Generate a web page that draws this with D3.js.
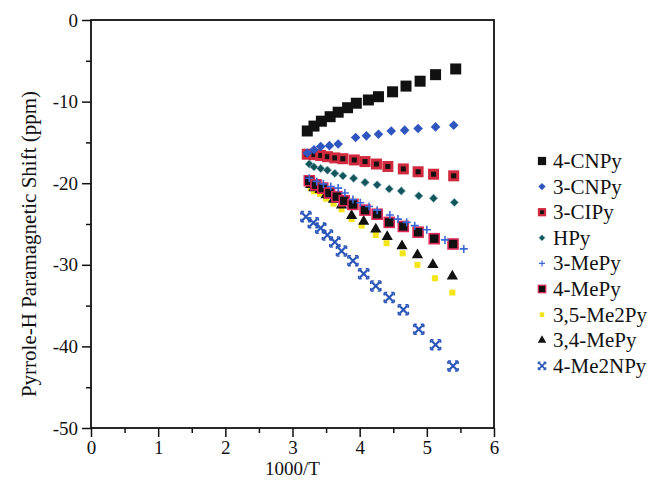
<!DOCTYPE html>
<html>
<head>
<meta charset="utf-8">
<script src="https://cdn.jsdelivr.net/npm/d3@7"></script>
<style>
  body { margin: 0; background: #fff; }
  svg { display: block; }
  text { font-family: "Liberation Serif", "Times New Roman", serif; fill: #111; }
</style>
</head>
<body>
<div class="canvas"></div>
<script>
// data (x = 1000/T, y = shift in ppm)
const seriesNames = ['4-CNPy', '3-CNPy', '3-ClPy', 'HPy', '3-MePy', '4-MePy', '3,5-Me2Py', '3,4-MePy', '4-Me2NPy'];
const legendLabels = ['4-CNPy', '3-CNPy', '3-CIPy', 'HPy', '3-MePy', '4-MePy', '3,5-Me2Py', '3,4-MePy', '4-Me2NPy'];

const cnpy4X = [3.22, 3.32, 3.43, 3.56, 3.68, 3.82, 3.95, 4.13, 4.28, 4.49, 4.69, 4.90, 5.13, 5.43];
const cnpy4Y = [-13.6, -13.0, -12.4, -11.85, -11.3, -10.75, -10.2, -9.8, -9.4, -8.8, -8.1, -7.5, -6.7, -6.0];

const cnpy3X = [3.22, 3.32, 3.42, 3.55, 3.68, 3.94, 4.10, 4.28, 4.47, 4.67, 4.87, 5.13, 5.40];
const cnpy3Y = [-16.3, -15.9, -15.5, -15.4, -15.2, -14.4, -14.2, -14.0, -13.6, -13.5, -13.3, -13.1, -12.9];

const clpy3X = [3.22, 3.32, 3.42, 3.52, 3.63, 3.75, 3.92, 4.08, 4.25, 4.42, 4.65, 4.87, 5.10, 5.40];
const clpy3Y = [-16.45, -16.5, -16.6, -16.75, -16.9, -17.0, -17.15, -17.35, -17.65, -17.95, -18.25, -18.6, -18.9, -19.1];

const hpyX = [3.25, 3.32, 3.42, 3.52, 3.63, 3.75, 3.91, 4.08, 4.26, 4.44, 4.62, 4.88, 5.10, 5.41];
const hpyY = [-17.65, -18.0, -18.2, -18.4, -18.8, -19.1, -19.4, -19.9, -20.2, -20.7, -20.95, -21.55, -21.85, -22.35];

const mepy3X = [3.25, 3.36, 3.46, 3.57, 3.68, 3.78, 3.90, 4.01, 4.14, 4.26, 4.45, 4.57, 4.70, 4.82, 5.00, 5.27, 5.55];
const mepy3Y = [-19.4, -19.8, -20.1, -20.4, -20.6, -21.2, -22.0, -22.4, -22.85, -23.3, -23.9, -24.4, -24.8, -25.2, -25.7, -26.95, -28.05];

const mepy4X = [3.25, 3.35, 3.45, 3.55, 3.66, 3.77, 3.90, 4.08, 4.26, 4.44, 4.65, 4.87, 5.11, 5.39];
const mepy4Y = [-19.7, -20.2, -20.6, -21.2, -21.65, -22.15, -22.6, -23.3, -23.8, -24.8, -25.3, -26.0, -26.8, -27.45];

const me2py35X = [3.27, 3.32, 3.41, 3.50, 3.61, 3.73, 3.88, 4.03, 4.24, 4.40, 4.64, 4.86, 5.12, 5.38];
const me2py35Y = [-20.6, -21.0, -21.3, -21.9, -22.5, -23.2, -24.4, -25.2, -26.35, -27.35, -28.6, -30.0, -31.65, -33.4];

const mepy34X = [3.27, 3.32, 3.41, 3.50, 3.61, 3.73, 3.88, 4.06, 4.24, 4.41, 4.63, 4.86, 5.09, 5.38];
const mepy34Y = [-20.2, -20.6, -20.8, -21.45, -22.0, -22.7, -24.0, -24.7, -25.65, -26.55, -27.7, -28.8, -30.0, -31.4];

const me2npy4X = [3.20, 3.31, 3.42, 3.52, 3.63, 3.73, 3.90, 4.06, 4.24, 4.44, 4.65, 4.88, 5.13, 5.39];
const me2npy4Y = [-24.1, -24.85, -25.5, -26.35, -27.2, -28.3, -29.5, -31.1, -32.6, -34.0, -35.5, -37.9, -39.8, -42.4];

const xTicks = [0, 1, 2, 3, 4, 5, 6];
const yTicks = [0, -10, -20, -30, -40, -50];

// build point lists
const seriesX = [cnpy4X, cnpy3X, clpy3X, hpyX, mepy3X, mepy4X, me2py35X, mepy34X, me2npy4X];
const seriesY = [cnpy4Y, cnpy3Y, clpy3Y, hpyY, mepy3Y, mepy4Y, me2py35Y, mepy34Y, me2npy4Y];
const series = seriesNames.map((name, i) => ({
    name,
    label: legendLabels[i],
    points: seriesX[i].map((x, j) => ({x, y: seriesY[i][j]}))
}));

const width = 652, height = 491;
const margin = {top: 20, left: 91, right: 158, bottom: 63};
const plotW = width - margin.left - margin.right;
const plotH = height - margin.top - margin.bottom;

const svg = d3.select('.canvas')
    .append('svg')
        .attr('width', width)
        .attr('height', height);

const graph = svg.append('g')
    .attr('transform', `translate(${margin.left}, ${margin.top})`);

const x = d3.scaleLinear().domain([0, 6]).range([0, plotW]);
const y = d3.scaleLinear().domain([-50, 0]).range([plotH, 0]);

// diamond = square turned 45deg
const diamond = r => `M0,${-r}L${r},0L0,${r}L${-r},0Z`;

// marker styles per series
const markerStyle = {
    '4-CNPy':   (g) => g.append('rect').attr('x', -5.5).attr('y', -5.5).attr('width', 11).attr('height', 11).attr('fill', '#111'),
    '3-CNPy':   (g) => g.append('path').attr('d', diamond(4.8)).attr('fill', '#2f55c0'),
    '3-ClPy':   (g) => {
                    g.append('rect').attr('x', -5.5).attr('y', -5.5).attr('width', 11).attr('height', 11).attr('fill', '#d12a3e');
                    g.append('rect').attr('x', -2.5).attr('y', -2.5).attr('width', 5).attr('height', 5).attr('fill', '#111');
                },
    'HPy':      (g) => g.append('path').attr('d', diamond(4.2)).attr('fill', '#12565c').attr('stroke', '#8fb8c0').attr('stroke-width', 0.8),
    '3-MePy':   (g) => g.append('path').attr('d', 'M-4,0H4M0,-4V4').attr('stroke', '#3a68d8').attr('stroke-width', 1.6).attr('fill', 'none'),
    '4-MePy':   (g) => g.append('rect').attr('x', -5).attr('y', -5).attr('width', 10).attr('height', 10).attr('fill', '#111').attr('stroke', '#e02a5a').attr('stroke-width', 1.6),
    '3,5-Me2Py':(g) => g.append('rect').attr('x', -3).attr('y', -3).attr('width', 6).attr('height', 6).attr('fill', '#f4e41a'),
    '3,4-MePy': (g) => g.append('path').attr('d', d3.symbol(d3.symbolTriangle, 55)()).attr('fill', '#111'),
    '4-Me2NPy': (g) => {
                    g.append('path').attr('d', 'M-4,-4L4,4M4,-4L-4,4').attr('stroke', '#2b55b8').attr('stroke-width', 2.2);
                    g.append('path').attr('d', 'M-5,-5h3M-5,-5v3M5,-5h-3M5,-5v3M-5,5h3M-5,5v-3M5,5h-3M5,5v-3')
                        .attr('stroke', '#2b55b8').attr('stroke-width', 1.6);
                }
};

// axes
const xAxis = d3.axisBottom(x).tickValues(d3.range(0, 6.01, 0.5)).tickSize(5)
    .tickFormat(d => xTicks.includes(d) ? d : '');
const yAxis = d3.axisLeft(y).tickValues(d3.range(-50, 0.01, 5)).tickSize(5)
    .tickFormat(d => yTicks.includes(d) ? d : '');

const xGroup = graph.append('g').attr('transform', `translate(0, ${plotH})`).call(xAxis);
const yGroup = graph.append('g').call(yAxis);

[xGroup, yGroup].forEach(g => {
    g.select('.domain').remove();
    g.selectAll('line').attr('stroke', '#111').attr('stroke-width', 1.5);
    g.selectAll('text').attr('font-size', 19).style('font-family', '"Liberation Serif", serif').attr('fill', '#111');
});
// longer major ticks
xGroup.selectAll('.tick').filter(d => xTicks.includes(d)).select('line').attr('y2', 9);
yGroup.selectAll('.tick').filter(d => yTicks.includes(d)).select('line').attr('x2', -9);
xGroup.selectAll('text').attr('y', 13);
yGroup.selectAll('text').attr('x', -13);

// frame
graph.append('rect')
    .attr('width', plotW).attr('height', plotH)
    .attr('fill', 'none').attr('stroke', '#111').attr('stroke-width', 1.8);

// points, drawn bottom series first
const drawOrder = ['4-Me2NPy', '3,5-Me2Py', '3,4-MePy', '4-MePy', '3-MePy', 'HPy', '3-ClPy', '3-CNPy', '4-CNPy'];
drawOrder.forEach(name => {
    const s = series.find(d => d.name === name);
    graph.append('g').selectAll('g')
        .data(s.points)
        .enter()
        .append('g')
            .attr('transform', d => `translate(${x(d.x)}, ${y(d.y)})`)
            .each(function() { markerStyle[name](d3.select(this)); });
});

// axis titles
svg.append('text')
    .attr('x', margin.left + plotW / 2).attr('y', 475)
    .attr('text-anchor', 'middle').attr('font-size', 19)
    .text('1000/T');
svg.append('text')
    .attr('transform', `translate(36, 244) rotate(-90)`)
    .attr('text-anchor', 'middle').attr('font-size', 21)
    .text('Pyrrole-H Paramagnetic Shift (ppm)');

// legend
const legend = svg.append('g').attr('transform', 'translate(542, 161)');
series.forEach((s, i) => {
    const row = legend.append('g').attr('transform', `translate(0, ${i * 25.6})`);
    const m = row.append('g').attr('transform', 'scale(0.75)');
    markerStyle[s.name](m);
    row.append('text')
        .attr('x', 11).attr('y', 7)
        .attr('font-size', 21)
        .text(s.label);
});
</script>
</body>
</html>
